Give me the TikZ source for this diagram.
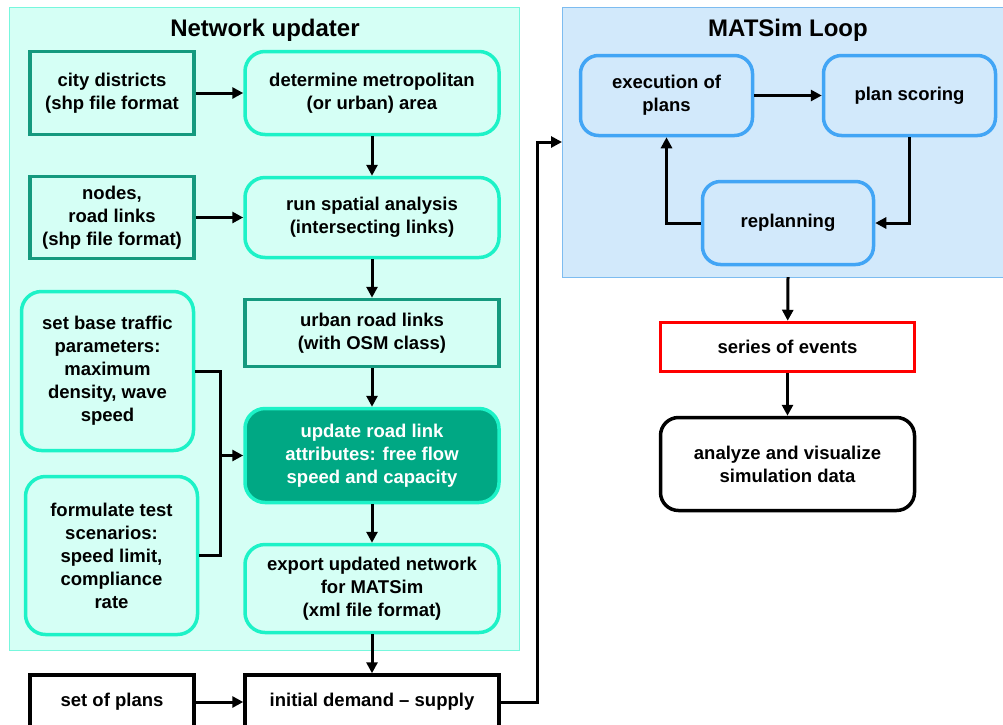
\documentclass[tikz,border=0pt]{standalone}
\usepackage{fontspec}
\setmainfont{Liberation Sans}
\usetikzlibrary{arrows.meta}
\definecolor{panelaqua}{RGB}{213,255,245}
\definecolor{aqualine}{RGB}{29,242,199}
\definecolor{tealline}{RGB}{21,153,126}
\definecolor{tealfill}{RGB}{0,168,132}
\definecolor{panelblue}{RGB}{210,233,251}
\definecolor{blueedge}{RGB}{125,188,240}
\definecolor{blueline}{RGB}{66,165,245}
\tikzstyle{arrow} = [line width=3pt,-{Triangle[length=11pt,width=11pt]}]
\tikzstyle{joinline} = [line width=3pt]

\begin{document}
\begin{tikzpicture}
        [
            x=1pt, y=-1pt,
            every node/.style={font=\fontsize{18.5}{23}\selectfont\bfseries, align=center},
            sqbox/.style={rectangle, draw=tealline, line width=3.5pt, fill=panelaqua},
            rbox/.style={rectangle, rounded corners=20pt, draw=aqualine, line width=3.5pt, fill=panelaqua},
            bbox/.style={rectangle, rounded corners=18pt, draw=blueline, line width=3.5pt, fill=panelblue},
            plainbox/.style={rectangle, draw=black, line width=3.5pt, fill=white},
            narrow/.style={minimum width=164pt},
            wide/.style={minimum width=254pt},
        ]
    \useasboundingbox (0,0) rectangle (1003,724);

    % panels
    \draw[fill=panelaqua, draw=aqualine!60, line width=1pt] (9,7) rectangle (519,650);
    \draw[fill=panelblue, draw=blueedge, line width=1pt] (562,7) rectangle (1012,277);
    \node[font=\fontsize{24}{28}\selectfont\bfseries] (nettitle) at (265,30) {Network updater};
    \node[font=\fontsize{24}{28}\selectfont\bfseries] (looptitle) at (788,30) {MATSim Loop};

    % network updater
    \node[sqbox, narrow, minimum height=83pt] (city) at (112,93) {city districts\\(shp file format};
    \node[rbox, wide, minimum height=83pt] (metro) at (372,93) {determine metropolitan\\(or urban) area};
    \node[sqbox, narrow, minimum height=82pt] (nodes) at (112,217.5) {nodes,\\road links\\(shp file format)};
    \node[rbox, wide, minimum height=80pt] (spatial) at (372,217.5) {run spatial analysis\\(intersecting links)};
    \node[sqbox, wide, minimum height=67pt] (urban) at (372,333) {urban road links\\(with OSM class)};
    \node[rbox, minimum width=172pt, minimum height=159pt] (base) at (107.5,371) {set base traffic\\parameters:\\maximum\\density, wave\\speed};
    \node[rbox, fill=tealfill, text=white, wide, minimum height=94pt] (update) at (372,455.5) {update road link\\attributes: free flow\\speed and capacity};
    \node[rbox, minimum width=172pt, minimum height=158pt] (scen) at (111.5,555.5) {formulate test\\scenarios:\\speed limit,\\compliance\\rate};
    \node[rbox, wide, minimum height=88pt] (export) at (372,588.5) {export updated network\\for MATSim\\(xml file format)};

    % demand
    \node[plainbox, narrow, minimum height=54pt] (plans) at (112,702) {set of plans};
    \node[plainbox, wide, minimum height=54pt] (demand) at (372,702) {initial demand -- supply};

    % MATSim loop
    \node[bbox, minimum width=172pt, minimum height=80pt] (exec) at (666.5,95.5) {execution of\\plans};
    \node[bbox, minimum width=172pt, minimum height=80pt] (score) at (909.5,95.5) {plan scoring};
    \node[bbox, minimum width=171pt, minimum height=83pt] (replan) at (788,223) {replanning};
    \coordinate (loopin) at (562,142);
    \coordinate (loopout) at (788,277);

    \node[plainbox, draw=red, minimum width=254pt, minimum height=49pt] (events) at (787.5,347) {series of events};
    \node[plainbox, rounded corners=18pt, minimum width=254pt, minimum height=93pt] (analyze) at (787.5,464) {analyze and visualize\\simulation data};

    % connectors
    \draw[arrow] (city) -- (metro);
    \draw[arrow] (nodes) -- (nodes -| spatial.west);
    \draw[arrow] (metro) -- (spatial);
    \draw[arrow] (spatial) -- (urban);
    \draw[arrow] (urban) -- (update);
    \coordinate (join) at (220,455.5);
    \draw[joinline] (base.east) -| (join) |- (scen.east);
    \draw[arrow] (join) -- (update.west);
    \draw[arrow] (update) -- (export);
    \draw[arrow] (export) -- (demand);
    \draw[arrow] (plans) -- (demand);
    \draw[arrow] (demand.east) -| (537,142) -- (loopin);
    \draw[arrow] (exec) -- (score);
    \draw[arrow] (score.south) |- (replan.east);
    \draw[arrow] (replan.west) -| (exec.south);
    \draw[arrow] (loopout) -- (events);
    \draw[arrow] (events) -- (analyze);
\end{tikzpicture}
\end{document}
